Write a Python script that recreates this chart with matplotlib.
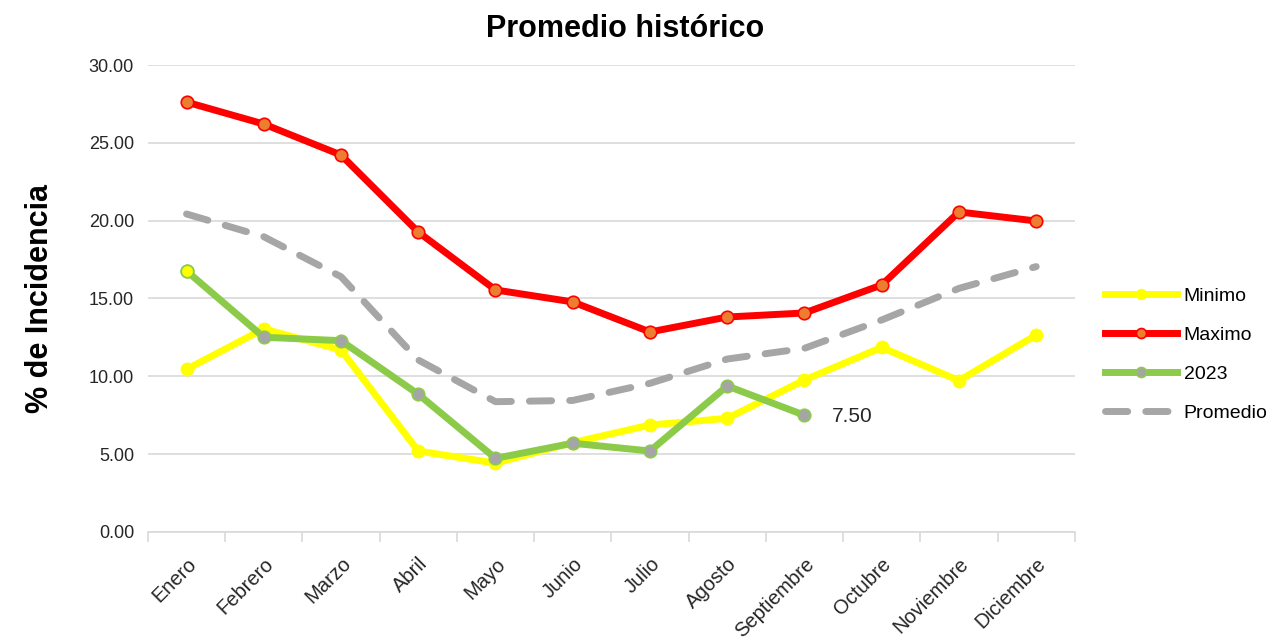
import matplotlib
matplotlib.use("Agg")
import matplotlib.pyplot as plt
import numpy as np

plt.rcParams['font.family'] = ['Liberation Sans', 'DejaVu Sans']

meses = ["Enero", "Febrero", "Marzo", "Abril", "Mayo", "Junio", "Julio",
         "Agosto", "Septiembre", "Octubre", "Noviembre", "Diciembre"]
minimo = [10.45, 13.05, 11.69, 5.20, 4.42, 5.74, 6.87, 7.30, 9.76, 11.86, 9.72, 12.65]
maximo = [27.62, 26.21, 24.22, 19.27, 15.55, 14.78, 12.85, 13.81, 14.07, 15.87, 20.56, 19.98]
serie_2023 = [16.77, 12.51, 12.29, 8.85, 4.73, 5.70, 5.20, 9.38, 7.50]
promedio = [20.43, 18.97, 16.40, 11.05, 8.37, 8.45, 9.55, 11.11, 11.80, 13.62, 15.65, 17.05]

fig = plt.figure(figsize=(12.75, 6.44), dpi=100)
ax = fig.add_axes([0.116, 0.174, 0.727, 0.725])

x = np.arange(len(meses))
x23 = np.arange(len(serie_2023))

ax.plot(x, promedio, color="#A6A6A6", lw=5, ls=(0, (3.2, 2.6)),
        solid_capstyle="round", dash_capstyle="round", label="Promedio", zorder=2)
ax.plot(x, minimo, color="#FFFF00", lw=5, marker="o", ms=9,
        mfc="#FFFF00", mec="#FFFF00", label="Minimo", zorder=3)
ax.plot(x, maximo, color="#FF0000", lw=5, marker="o", ms=9,
        mfc="#ED7D31", mec="#FF0000", mew=1.2, label="Maximo", zorder=4)
ax.plot(x23, serie_2023, color="#8CCB4A", lw=5, marker="o", ms=9,
        mfc="#A5A5A5", mec="#8CCB4A", mew=1.2, label="2023", zorder=5)
# first 2023 marker is drawn yellow in the original
ax.plot(x23[:1], serie_2023[:1], ls="none", marker="o", ms=9,
        mfc="#FFFF00", mec="#8CCB4A", mew=1.2, zorder=6)

ax.annotate(f"{serie_2023[-1]:.2f}", (x23[-1], serie_2023[-1]),
            xytext=(20, -1), textcoords="offset points",
            ha="left", va="center", fontsize=15, color="#262626")

ax.set_ylim(0, 30)
ax.set_yticks(np.arange(0, 31, 5))
ax.set_yticklabels([f"{v:.2f}" for v in np.arange(0, 31, 5)], fontsize=13, color="#262626")
ax.set_xlim(-0.5, len(meses) - 0.5)
ax.set_xticks(x)
ax.set_xticklabels(meses, rotation=45, ha="right", rotation_mode="anchor",
                   fontsize=14.5, color="#262626")
ax.set_xticks(np.arange(-0.5, len(meses)), minor=True)
ax.tick_params(axis="x", which="major", length=0, pad=16)
ax.tick_params(axis="x", which="minor", length=7, color="#D9D9D9", width=1.2)
ax.tick_params(axis="y", length=0, pad=10)

ax.grid(axis="y", color="#D9D9D9", lw=1.2)
ax.set_axisbelow(True)
for s in ["top", "right", "left"]:
    ax.spines[s].set_visible(False)
ax.spines["bottom"].set_color("#D9D9D9")
ax.spines["bottom"].set_linewidth(1.2)

ax.set_ylabel("% de Incidencia", fontsize=22, fontweight="bold", labelpad=24)
fig.text(0.49, 0.955, "Promedio histórico", ha="center", va="center",
         fontsize=22, fontweight="bold")

handles, labels = ax.get_legend_handles_labels()
order = [labels.index(n) for n in ["Minimo", "Maximo", "2023", "Promedio"]]
leg = fig.legend([handles[i] for i in order], [labels[i] for i in order],
                 loc="center left", bbox_to_anchor=(0.853, 0.449), frameon=False,
                 fontsize=14, handlelength=3.7, labelspacing=1.1,
                 handletextpad=0.35, markerscale=0.8)

fig.savefig("out.png", dpi=100)
